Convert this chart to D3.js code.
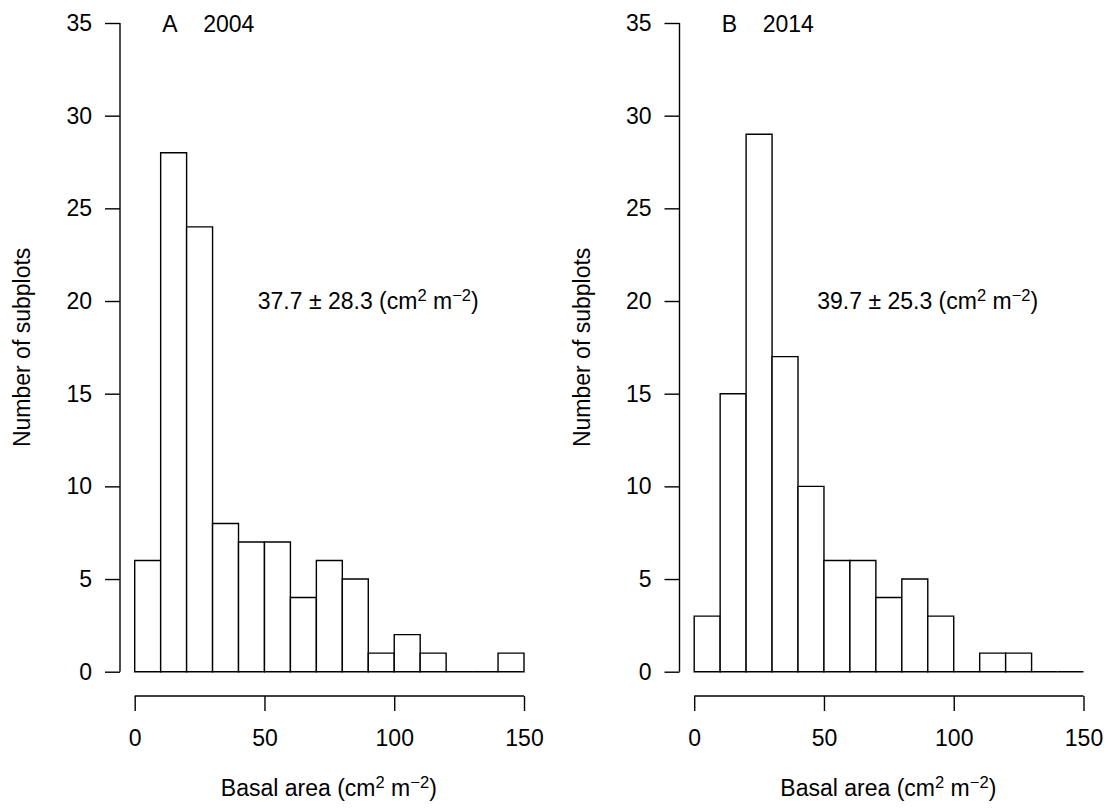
<!DOCTYPE html>
<html>
<head>
<meta charset="utf-8">
<script src="https://d3js.org/d3.v7.min.js"></script>
<style>
  html, body { margin: 0; padding: 0; background: #fff; }
  svg { display: block; }
  text { font-family: "Liberation Sans", Arial, sans-serif; fill: #000; }
</style>
</head>
<body>
<svg id="chart" width="1110" height="808"></svg>
<script>
// Histogram bins of basal area (cm2 m-2), width 10, from 0 to 150
const binEdges = [0, 10, 20, 30, 40, 50, 60, 70, 80, 90, 100, 110, 120, 130, 140, 150];
const counts2004 = [6, 28, 24, 8, 7, 7, 4, 6, 5, 1, 2, 1, 0, 0, 1];
const counts2014 = [3, 15, 29, 17, 10, 6, 6, 4, 5, 3, 0, 1, 1, 0, 0];
const xTicks = [0, 50, 100, 150];
const yTicks = [0, 5, 10, 15, 20, 25, 30, 35];
const panelLetters = ["A", "B"];
const panelYears = ["2004", "2014"];
const summaries = ["37.7 \u00B1 28.3", "39.7 \u00B1 25.3"];

const svg = d3.select("#chart");
const fontSize = 23;
const lw = 1.4;

function superUnit(sel) {
  // "(cm^2 m^-2)" style unit text
  sel.append("tspan").text("(cm");
  sel.append("tspan").attr("dy", -8).attr("font-size", fontSize * 0.72).text("2");
  sel.append("tspan").attr("dy", 8).text(" m");
  sel.append("tspan").attr("dy", -8).attr("font-size", fontSize * 0.72).text("\u22122");
  sel.append("tspan").attr("dy", 8).text(")");
}

function drawPanel(offsetX, counts, letter, year, summary) {
  const g = svg.append("g");
  const x = d3.scaleLinear().domain([0, 150]).range([134.7 + offsetX, 524 + offsetX]);
  const y = d3.scaleLinear().domain([0, 35]).range([671.7, 23]);

  const bins = counts.map((c, i) => ({ x0: binEdges[i], x1: binEdges[i + 1], n: c }));

  // bars as closed outlines so empty bins still show along the baseline
  g.selectAll("path.bar").data(bins).join("path")
    .attr("class", "bar")
    .attr("d", d => `M${x(d.x0)},${y(0)}V${y(d.n)}H${x(d.x1)}V${y(0)}Z`)
    .attr("fill", "#fff")
    .attr("stroke", "#000")
    .attr("stroke-width", lw)
    .attr("stroke-linejoin", "miter");

  // y axis (detached, ticks outward)
  const yAxisX = 120 + offsetX;
  const yAxis = d3.axisLeft(y).tickValues(yTicks).tickSize(15).tickPadding(13).tickFormat(d3.format("d"));
  const ya = g.append("g").attr("transform", `translate(${yAxisX},0)`).call(yAxis);
  ya.select(".domain").attr("d", `M0,${y(0)}V${y(35)}`).attr("stroke", "#000").attr("stroke-width", lw);
  ya.selectAll(".tick line").attr("stroke", "#000").attr("stroke-width", lw);
  ya.selectAll(".tick text").attr("font-size", fontSize).attr("font-family", "Liberation Sans, Arial, sans-serif").attr("fill", "#000");

  // x axis
  const xAxisY = 696;
  const xAxis = d3.axisBottom(x).tickValues(xTicks).tickSize(15).tickPadding(19).tickFormat(d3.format("d"));
  const xa = g.append("g").attr("transform", `translate(0,${xAxisY})`).call(xAxis);
  xa.select(".domain").attr("d", `M${x(0)},0H${x(150)}`).attr("stroke", "#000").attr("stroke-width", lw);
  xa.selectAll(".tick line").attr("stroke", "#000").attr("stroke-width", lw);
  xa.selectAll(".tick text").attr("font-size", fontSize).attr("font-family", "Liberation Sans, Arial, sans-serif").attr("fill", "#000");

  // axis titles
  const xt = g.append("text")
    .attr("x", (x(0) + x(150)) / 2 - 0.5)
    .attr("y", 796)
    .attr("text-anchor", "middle")
    .attr("font-size", fontSize);
  xt.append("tspan").text("Basal area ");
  superUnit(xt);

  g.append("text")
    .attr("transform", `translate(${30 + offsetX},${(y(0) + y(35)) / 2}) rotate(-90)`)
    .attr("text-anchor", "middle")
    .attr("font-size", fontSize)
    .text("Number of subplots");

  // panel title
  g.append("text").attr("x", x(0) + 27.5).attr("y", 32).attr("font-size", fontSize).text(letter);
  g.append("text").attr("x", x(0) + 68.5).attr("y", 32).attr("font-size", fontSize).text(year);

  // mean ± sd annotation
  const ann = g.append("text")
    .attr("x", x(90))
    .attr("y", y(20) + 8)
    .attr("text-anchor", "middle")
    .attr("font-size", fontSize);
  ann.append("tspan").text(summary + " ");
  superUnit(ann);
}

drawPanel(0, counts2004, panelLetters[0], panelYears[0], summaries[0]);
drawPanel(559.5, counts2014, panelLetters[1], panelYears[1], summaries[1]);
</script>
</body>
</html>
